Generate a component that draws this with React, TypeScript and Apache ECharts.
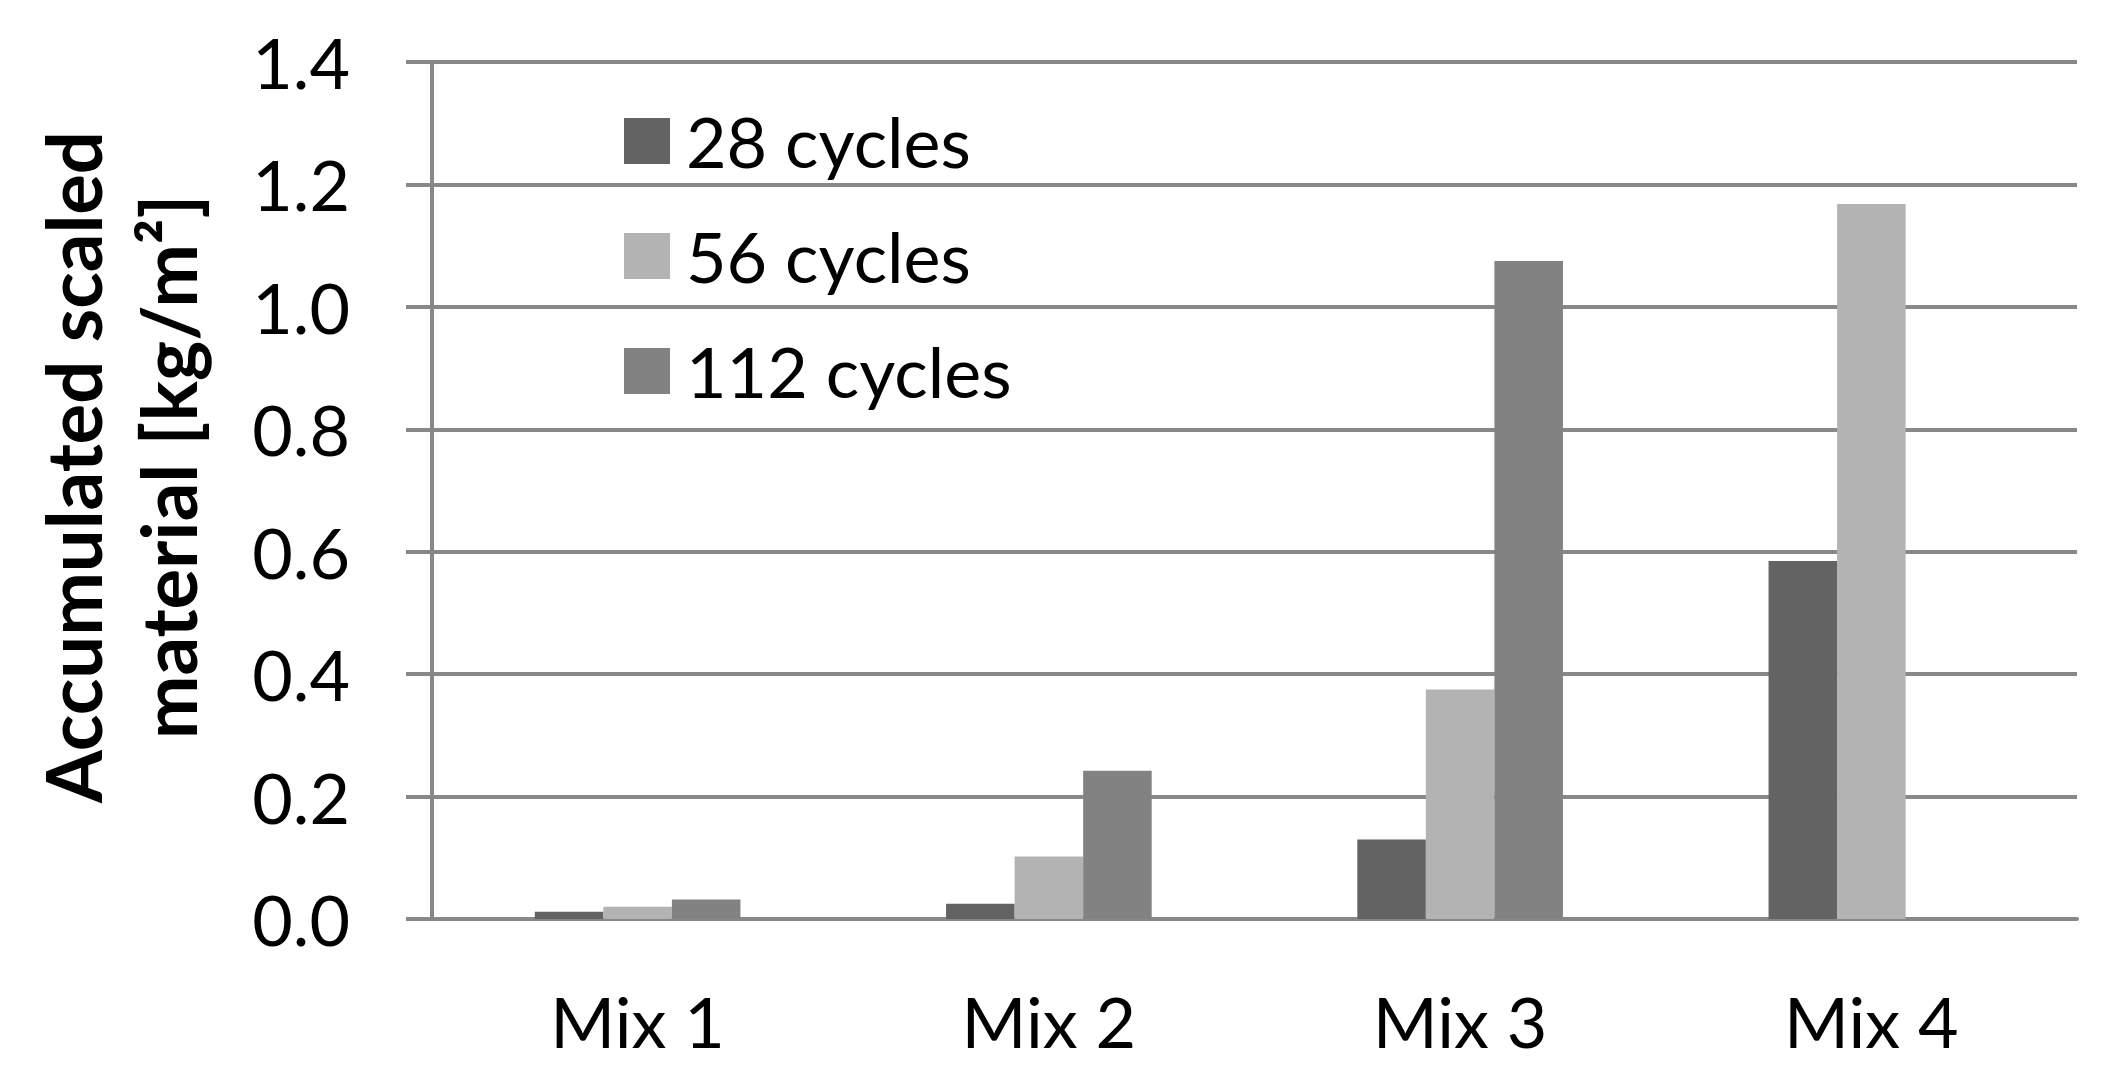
import React, { useEffect, useRef } from "react";
import * as echarts from "echarts";

const categories = ["Mix 1", "Mix 2", "Mix 3", "Mix 4"];
const seriesNames = ["28 cycles", "56 cycles", "112 cycles"];
const cycles28 = [0.012, 0.025, 0.13, 0.585];
const cycles56 = [0.02, 0.102, 0.375, 1.168];
const cycles112: (number | null)[] = [0.032, 0.242, 1.075, null];
const seriesColors = ["#636363", "#b3b3b3", "#828282"];
const yTicks = { min: 0, max: 1.4, interval: 0.2 };
const yAxisTitle = "Accumulated scaled\nmaterial [kg/m²]";

const FONT = "Lato, 'Open Sans', sans-serif";
const GRID_COLOR = "#888888";

export default function App() {
  const ref = useRef<HTMLDivElement>(null);
  useEffect(() => {
    if (!ref.current) return;
    const chart = echarts.init(ref.current, undefined, { renderer: "svg" });
    const data = [cycles28, cycles56, cycles112];
    chart.setOption({
      animation: false,
      backgroundColor: "#ffffff",
      grid: { left: 432, right: 37, top: 62, bottom: 167, containLabel: false },
      legend: {
        orient: "vertical",
        left: 624,
        top: 106,
        padding: 0,
        icon: "rect",
        itemWidth: 46,
        itemHeight: 46,
        itemGap: 45,
        data: seriesNames,
        textStyle: {
          fontFamily: FONT,
          fontSize: 70,
          color: "#000",
          padding: [0, 0, 0, 11],
        },
      },
      xAxis: {
        type: "category",
        data: categories,
        axisLine: { show: true, lineStyle: { color: GRID_COLOR, width: 4 } },
        axisTick: { show: false },
        axisLabel: {
          fontFamily: FONT,
          fontSize: 70,
          color: "#000",
          margin: 67,
        },
        splitLine: { show: false },
      },
      yAxis: {
        type: "value",
        min: yTicks.min,
        max: yTicks.max,
        interval: yTicks.interval,
        axisLine: { show: true, lineStyle: { color: GRID_COLOR, width: 4 } },
        axisTick: {
          show: true,
          inside: false,
          length: 26,
          lineStyle: { color: GRID_COLOR, width: 4 },
        },
        axisLabel: {
          fontFamily: FONT,
          fontSize: 70,
          color: "#000",
          margin: 82,
          formatter: (v: number) => v.toFixed(1),
        },
        splitLine: { show: true, lineStyle: { color: GRID_COLOR, width: 4 } },
      },
      series: seriesNames.map((name, i) => ({
        name,
        type: "bar",
        data: data[i],
        barGap: "0%",
        barCategoryGap: "50%",
        itemStyle: { color: seriesColors[i] },
        z: 1,
      })),
      graphic: [
        {
          type: "text",
          x: 120,
          y: 467,
          rotation: Math.PI / 2,
          style: {
            text: yAxisTitle,
            fontFamily: FONT,
            fontSize: 76,
            fontWeight: "bold",
            lineHeight: 95,
            fill: "#000",
            align: "center",
            verticalAlign: "middle",
          },
        },
      ],
    });
    return () => chart.dispose();
  }, []);
  return (
    <div
      ref={ref}
      style={{ position: "fixed", left: 0, top: 0, width: 2114, height: 1086, background: "#fff" }}
    />
  );
}
